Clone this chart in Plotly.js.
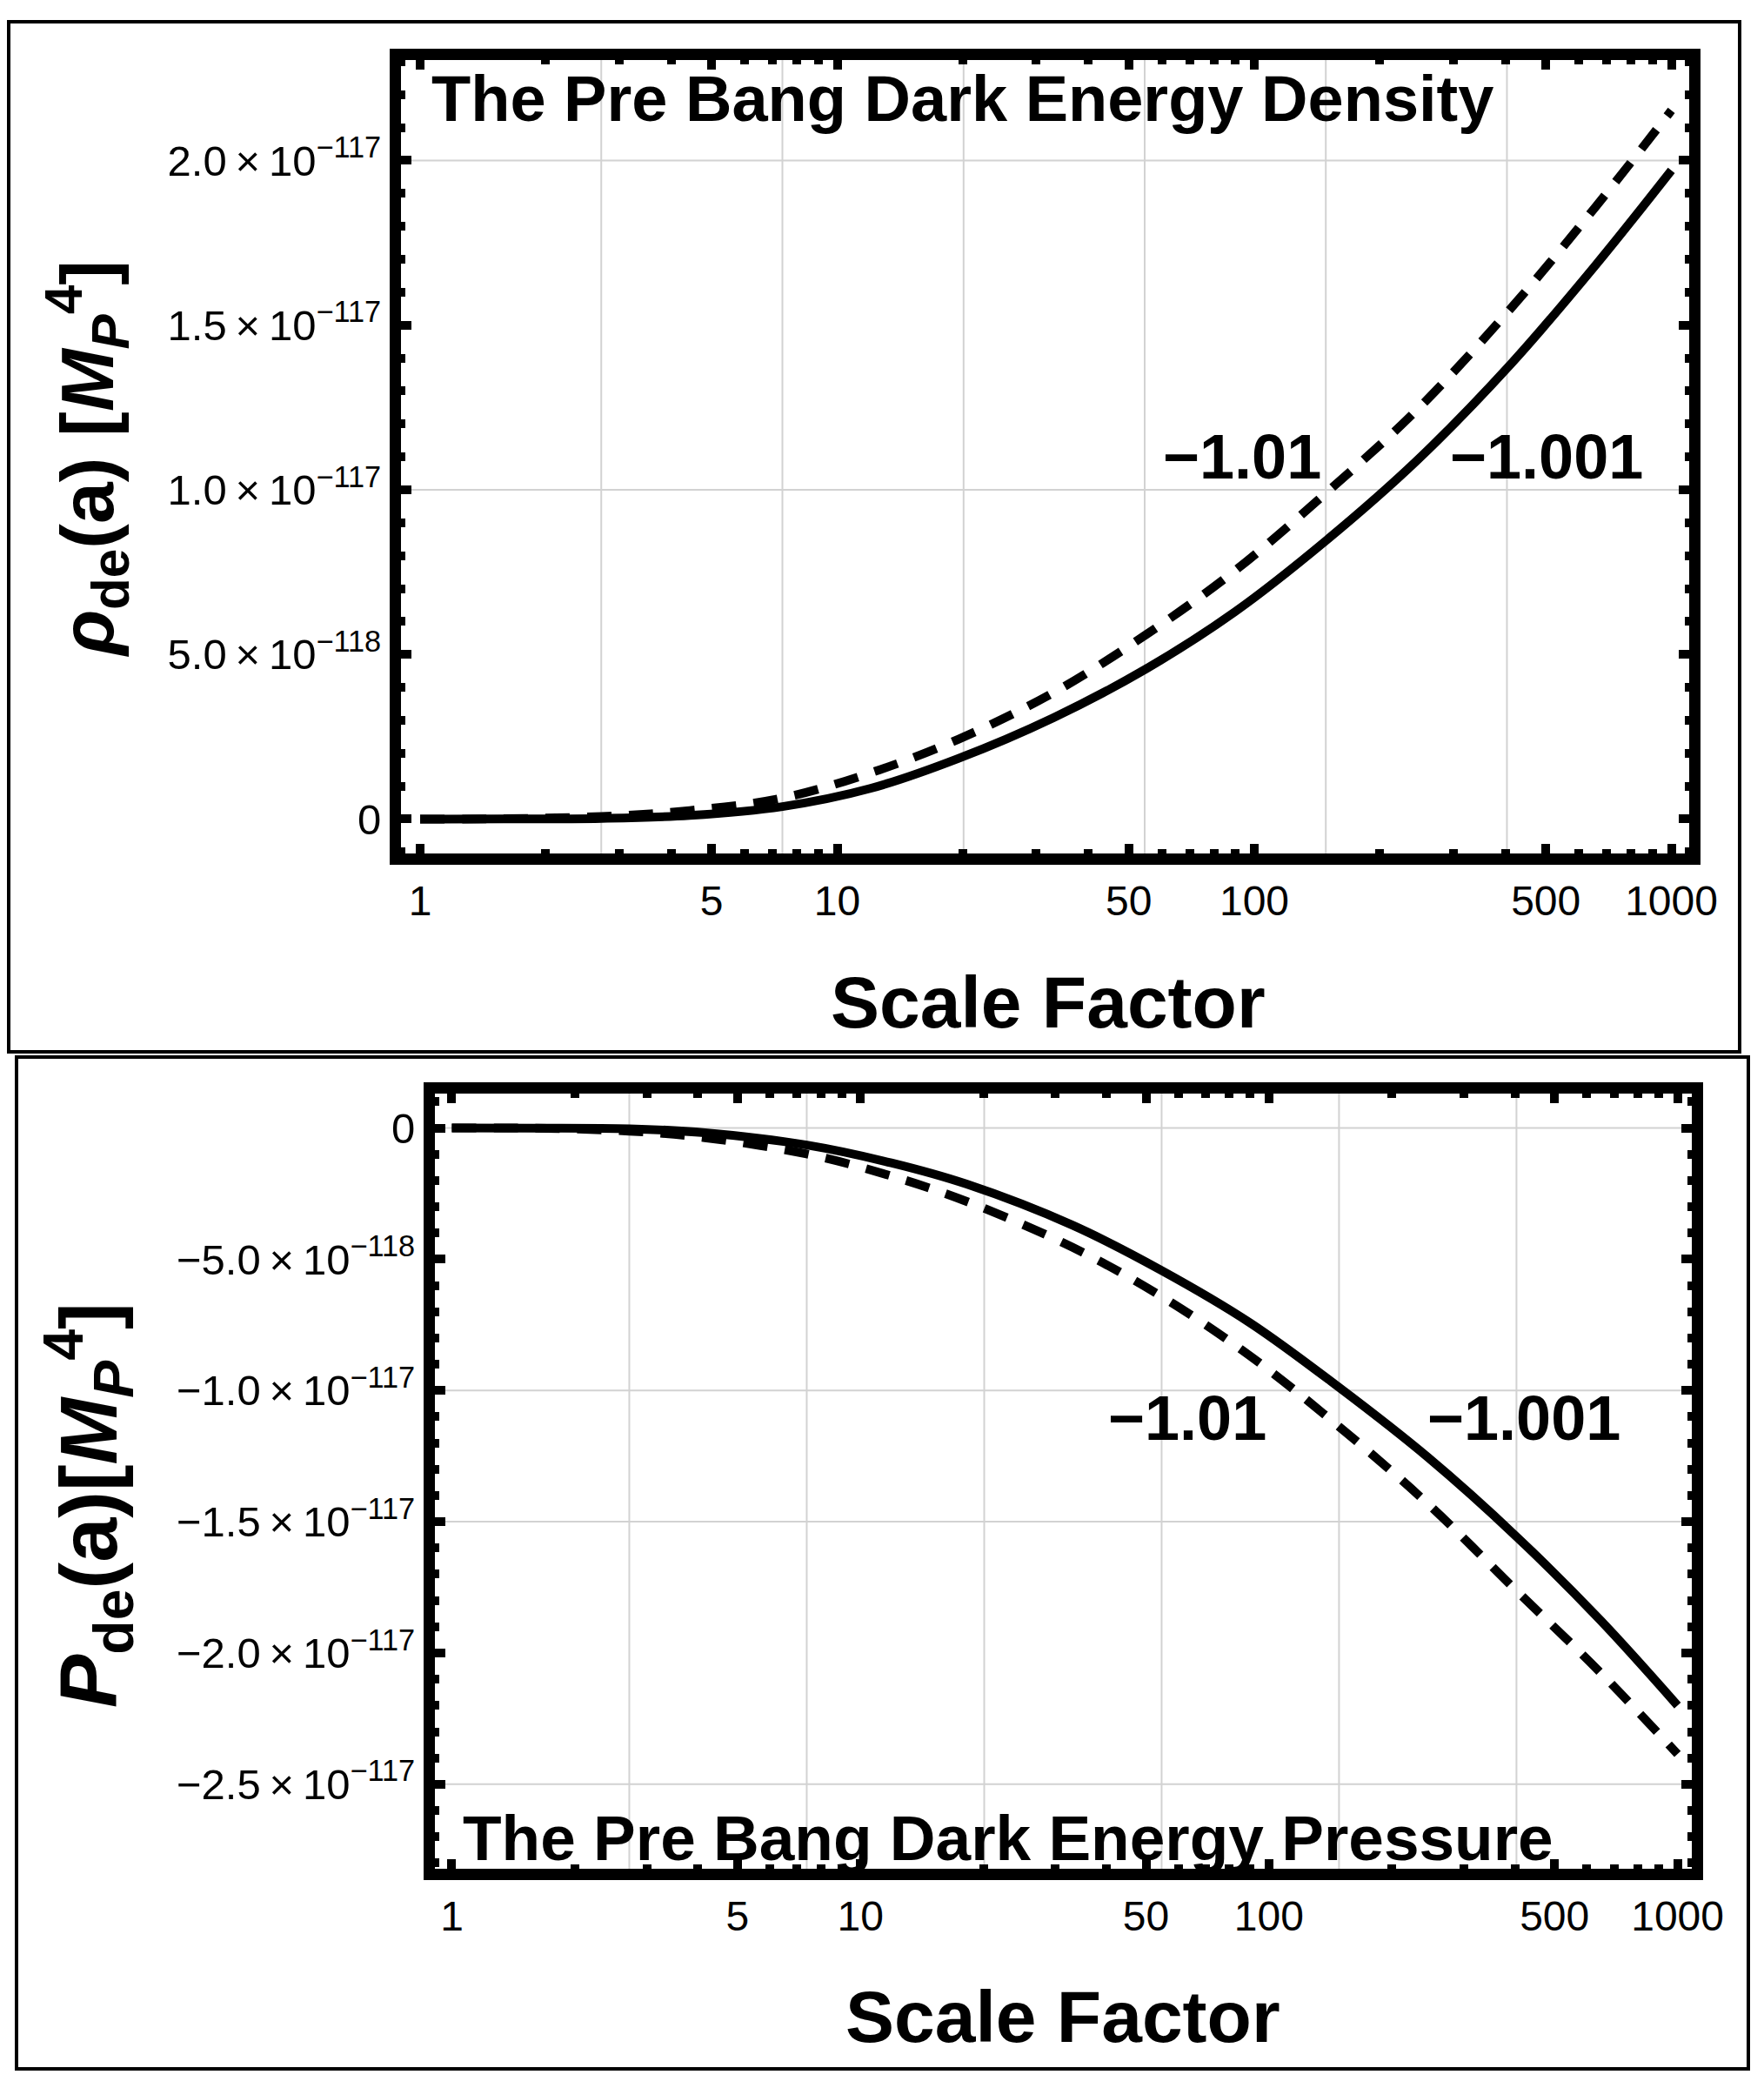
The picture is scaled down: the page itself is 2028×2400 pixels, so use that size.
<!DOCTYPE html>
<html>
<head>
<meta charset="utf-8">
<script src="https://cdn.plot.ly/plotly-3.0.1.min.js"></script>
<style>html,body{margin:0;padding:0;background:#fff;}</style>
</head>
<body>
<div id="chart" style="width:2028px;height:2400px;"></div>
<script>
// ---------------- data ----------------
// Top panel: dark energy density rho_de(a) [M_P^4]
const A_TOP = [1, 1.585, 2.72, 4.43, 7.39, 12, 19.5, 33, 55, 90, 150, 246, 411, 656, 1000];
const RHO_W1001 = [0, 3.0e-121, 2.0e-120, 1.1e-119, 3.8e-119, 9.3e-119, 1.84e-118, 3.08e-118, 4.56e-118, 6.30e-118, 8.50e-118, 1.090e-117, 1.380e-117, 1.680e-117, 1.970e-117];
const RHO_W101  = [0, 1.0e-120, 8.0e-120, 2.6e-119, 6.4e-119, 1.40e-118, 2.42e-118, 3.84e-118, 5.60e-118, 7.55e-118, 9.95e-118, 1.244e-117, 1.549e-117, 1.857e-117, 2.152e-117];

// Bottom panel: dark energy pressure P_de(a) [M_P^4]
const A_BOT = [1, 1.585, 2.72, 4.16, 7.39, 11.9, 18.2, 33, 54.6, 90, 148, 245, 403, 648, 1000];
const P_W1001 = [0, -4.0e-121, -3.0e-120, -1.8e-119, -6.5e-119, -1.33e-118, -2.14e-118, -3.70e-118, -5.43e-118, -7.43e-118, -9.87e-118, -1.255e-117, -1.556e-117, -1.876e-117, -2.200e-117];
const P_W101  = [0, -1.0e-120, -1.2e-119, -3.7e-119, -9.9e-119, -1.83e-118, -2.80e-118, -4.54e-118, -6.42e-118, -8.69e-118, -1.136e-117, -1.432e-117, -1.762e-117, -2.075e-117, -2.385e-117];

// Curve labels (w values)
const LABELS_W = ["\u22121.01", "\u22121.001"];
const TOP_LABEL_POS_X = [93.5, 503];
const TOP_LABEL_POS_Y = [1.10e-117, 1.10e-117];
const BOT_LABEL_POS_X = [63, 420];
const BOT_LABEL_POS_Y = [-1.106e-117, -1.106e-117];

// Ticks
const X_MAJOR = [1, 5, 10, 50, 100, 500, 1000];
const X_LABELS = ["1", "5", "10", "50", "100", "500", "1000"];
const X_MINOR = [2, 3, 4, 6, 7, 8, 9, 20, 30, 40, 60, 70, 80, 90, 200, 300, 400, 600, 700, 800, 900];

const Y_TOP_VALS = [0, 5e-118, 1.0e-117, 1.5e-117, 2.0e-117];
const Y_TOP_TEXT = ["0", "5.0\u2009\u00d7\u200910<sup>\u2212118</sup>", "1.0\u2009\u00d7\u200910<sup>\u2212117</sup>",
                    "1.5\u2009\u00d7\u200910<sup>\u2212117</sup>", "2.0\u2009\u00d7\u200910<sup>\u2212117</sup>"];
const Y_BOT_VALS = [0, -5e-118, -1.0e-117, -1.5e-117, -2.0e-117, -2.5e-117];
const Y_BOT_TEXT = ["0", "\u22125.0\u2009\u00d7\u200910<sup>\u2212118</sup>", "\u22121.0\u2009\u00d7\u200910<sup>\u2212117</sup>",
                    "\u22121.5\u2009\u00d7\u200910<sup>\u2212117</sup>", "\u22122.0\u2009\u00d7\u200910<sup>\u2212117</sup>",
                    "\u22122.5\u2009\u00d7\u200910<sup>\u2212117</sup>"];

// Gridlines visible in the picture (vertical lines at e^1..e^6)
const GRID_X = [2.718, 7.389, 20.09, 54.60, 148.4, 403.4];
const GRID_Y_TOP = [1.0e-117, 2.0e-117];
const GRID_Y_BOT = [0, -1.0e-117, -1.5e-117, -2.5e-117];

// Text
const TITLE_TOP = "The Pre Bang Dark Energy Density";
const TITLE_BOT = "The Pre Bang Dark Energy Pressure";
const XTITLE = "Scale Factor";
const YTITLE_TOP = "<i>\u03c1</i><sub>de</sub>(a) [<i>M</i><sub><i>P</i></sub><sup>4</sup>]";
const YTITLE_BOT = "<i>P</i><sub>de</sub>(a)[<i>M</i><sub><i>P</i></sub><sup>4</sup>]";

// ---------------- layout helpers ----------------
const W = 2028, H = 2400;
const FONT = "Liberation Sans, Arial, Helvetica, sans-serif";
const px = x => x / W;
const py = y => 1 - y / H;

function minorY(lo, hi) {
  const v = [];
  for (let k = lo; k <= hi; k++) { if (k % 5 !== 0) v.push(k * 1e-118); }
  return v;
}

function xAxis(domain, range, anchor) {
  return {
    type: 'log', domain: domain, range: range, anchor: anchor,
    showline: true, linewidth: 13, linecolor: 'black', mirror: 'allticks',
    ticks: 'inside', ticklen: 11, tickwidth: 10, tickcolor: 'black',
    tickmode: 'array', tickvals: X_MAJOR, ticktext: X_LABELS,
    minor: {tickmode: 'array', tickvals: X_MINOR, ticks: 'inside', ticklen: 5, tickwidth: 10, tickcolor: 'black', showgrid: false},
    showgrid: false, zeroline: false,
    tickfont: {family: FONT, size: 48, color: 'black'},
    fixedrange: true
  };
}
function yAxis(domain, range, anchor, vals, text, minor) {
  return {
    domain: domain, range: range, anchor: anchor,
    showline: true, linewidth: 13, linecolor: 'black', mirror: 'allticks',
    ticks: 'inside', ticklen: 12, tickwidth: 10, tickcolor: 'black',
    tickmode: 'array', tickvals: vals, ticktext: text,
    minor: {tickmode: 'array', tickvals: minor, ticks: 'inside', ticklen: 5, tickwidth: 10, tickcolor: 'black', showgrid: false},
    showgrid: false, zeroline: false,
    tickfont: {family: FONT, size: 49, color: 'black'},
    fixedrange: true
  };
}

const lineSolid = {color: 'black', width: 10, shape: 'spline', smoothing: 1};
const lineDash = {color: 'black', width: 10, dash: '28px,20px', shape: 'spline', smoothing: 1};

const traces = [
  {x: A_TOP, y: RHO_W1001, xaxis: 'x', yaxis: 'y', mode: 'lines', line: lineSolid, name: 'w = \u22121.001'},
  {x: A_TOP, y: RHO_W101, xaxis: 'x', yaxis: 'y', mode: 'lines', line: lineDash, name: 'w = \u22121.01'},
  {x: A_BOT, y: P_W1001, xaxis: 'x2', yaxis: 'y2', mode: 'lines', line: lineSolid, name: 'w = \u22121.001'},
  {x: A_BOT, y: P_W101, xaxis: 'x2', yaxis: 'y2', mode: 'lines', line: lineDash, name: 'w = \u22121.01'}
];

const shapes = [];
// outer panel boxes
shapes.push({type: 'rect', xref: 'paper', yref: 'paper', x0: px(10), x1: px(2000), y0: py(25), y1: py(1209), line: {color: 'black', width: 4}});
shapes.push({type: 'rect', xref: 'paper', yref: 'paper', x0: px(19), x1: px(2010), y0: py(1215), y1: py(2378), line: {color: 'black', width: 4}});
const GRID = {color: '#d2d2d2', width: 2};
GRID_X.forEach(v => {
  shapes.push({type: 'line', xref: 'x', yref: 'y domain', x0: v, x1: v, y0: 0, y1: 1, line: GRID, layer: 'below'});
  shapes.push({type: 'line', xref: 'x2', yref: 'y2 domain', x0: v, x1: v, y0: 0, y1: 1, line: GRID, layer: 'below'});
});
GRID_Y_TOP.forEach(v => shapes.push({type: 'line', xref: 'x domain', yref: 'y', x0: 0, x1: 1, y0: v, y1: v, line: GRID, layer: 'below'}));
GRID_Y_BOT.forEach(v => shapes.push({type: 'line', xref: 'x2 domain', yref: 'y2', x0: 0, x1: 1, y0: v, y1: v, line: GRID, layer: 'below'}));

const ann = [];
const bold = (s) => '<b>' + s + '</b>';
ann.push({xref: 'paper', yref: 'paper', x: px(494), y: py(113), xanchor: 'left', yanchor: 'middle', text: bold(TITLE_TOP), showarrow: false, font: {family: FONT, size: 74, color: 'black'}});
ann.push({xref: 'paper', yref: 'paper', x: px(530), y: py(2112), xanchor: 'left', yanchor: 'middle', text: bold(TITLE_BOT), showarrow: false, font: {family: FONT, size: 73, color: 'black'}});
ann.push({xref: 'paper', yref: 'paper', x: px(1205), y: py(1152), xanchor: 'center', yanchor: 'middle', text: bold(XTITLE), showarrow: false, font: {family: FONT, size: 84, color: 'black'}});
ann.push({xref: 'paper', yref: 'paper', x: px(1222), y: py(2318), xanchor: 'center', yanchor: 'middle', text: bold(XTITLE), showarrow: false, font: {family: FONT, size: 84, color: 'black'}});
ann.push({xref: 'paper', yref: 'paper', x: px(100), y: py(527), xanchor: 'center', yanchor: 'middle', textangle: -90, text: bold(YTITLE_TOP), showarrow: false, font: {family: FONT, size: 86, color: 'black'}});
ann.push({xref: 'paper', yref: 'paper', x: px(102), y: py(1730), xanchor: 'center', yanchor: 'middle', textangle: -90, text: bold(YTITLE_BOT), showarrow: false, font: {family: FONT, size: 92, color: 'black'}});
LABELS_W.forEach((t, i) => {
  ann.push({xref: 'x', yref: 'y', x: Math.log10(TOP_LABEL_POS_X[i]), y: TOP_LABEL_POS_Y[i], xanchor: 'center', yanchor: 'middle', text: bold(t), showarrow: false, font: {family: FONT, size: 72, color: 'black'}});
  ann.push({xref: 'x2', yref: 'y2', x: Math.log10(BOT_LABEL_POS_X[i]), y: BOT_LABEL_POS_Y[i], xanchor: 'center', yanchor: 'middle', text: bold(t), showarrow: false, font: {family: FONT, size: 72, color: 'black'}});
});

const layout = {
  width: W, height: H,
  margin: {l: 0, r: 0, t: 0, b: 0, pad: 0},
  paper_bgcolor: 'white', plot_bgcolor: 'white',
  showlegend: false,
  font: {family: FONT, color: 'black'},
  xaxis: xAxis([461 / W, 1942 / W], [-0.0459, 3.0427], 'y'),
  yaxis: yAxis([py(981), py(69)], [-1.044e-118, 2.305e-117], 'x', Y_TOP_VALS, Y_TOP_TEXT, minorY(-1, 23)),
  xaxis2: xAxis([500 / W, 1945 / W], [-0.0415, 3.0349], 'y2'),
  yaxis2: yAxis([py(2148), py(1257)], [-2.822e-117, 1.31e-118], 'x2', Y_BOT_VALS, Y_BOT_TEXT, minorY(-28, 1)),
  shapes: shapes,
  annotations: ann
};

Plotly.newPlot('chart', traces, layout, {staticPlot: true, displayModeBar: false});
</script>
</body>
</html>
